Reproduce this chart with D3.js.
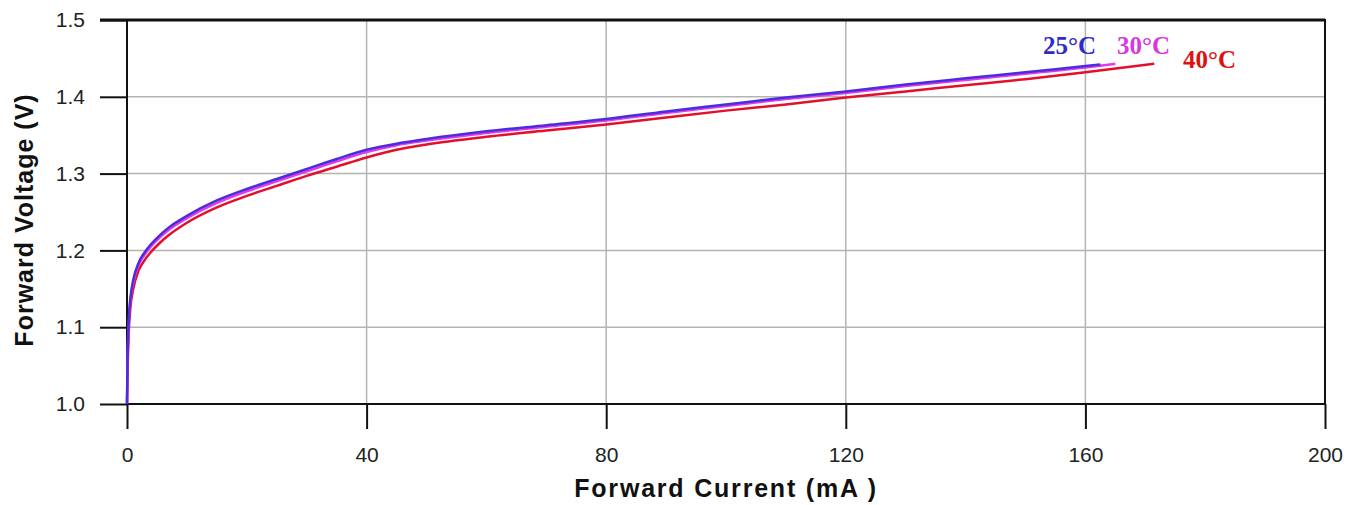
<!DOCTYPE html>
<html>
<head>
<meta charset="utf-8">
<script src="https://cdn.jsdelivr.net/npm/d3@7"></script>
<style>
  html, body { margin: 0; padding: 0; background: #fff; }
  svg { display: block; }
</style>
</head>
<body>
<svg id="chart" width="1354" height="505"></svg>
<script>
// ---- data ----
const xTicks = [0, 40, 80, 120, 160, 200];
const yTicks = [1.0, 1.1, 1.2, 1.3, 1.4, 1.5];
const xLabel = "Forward Current (mA )";
const yLabel = "Forward Voltage (V)";

const current25 = [0, 0.1, 0.3, 0.6, 1, 2, 3, 4, 5.5, 7, 10, 15, 20, 25, 30, 35, 40, 45, 50, 60, 70, 80, 90, 100, 110, 120, 130, 140, 150, 160, 162.5];
const volt25    = [1.000, 1.060, 1.110, 1.140, 1.160, 1.185, 1.198, 1.208, 1.220, 1.230, 1.245, 1.265, 1.280, 1.293, 1.306, 1.319, 1.331, 1.339, 1.345, 1.355, 1.363, 1.371, 1.381, 1.390, 1.399, 1.407, 1.416, 1.424, 1.432, 1.440, 1.442];

const current30 = [0, 0.1, 0.3, 0.6, 1, 2, 3, 4, 5.5, 7, 10, 15, 20, 25, 30, 35, 40, 45, 50, 60, 70, 80, 90, 100, 110, 120, 130, 140, 150, 160, 165];
const volt30    = [1.000, 1.055, 1.105, 1.136, 1.156, 1.182, 1.195, 1.205, 1.217, 1.227, 1.242, 1.262, 1.277, 1.290, 1.303, 1.316, 1.328, 1.337, 1.343, 1.353, 1.361, 1.369, 1.379, 1.388, 1.397, 1.405, 1.414, 1.422, 1.430, 1.438, 1.443];

const current40 = [0, 0.1, 0.3, 0.6, 1, 2, 3, 4, 5.5, 7, 10, 15, 20, 25, 30, 35, 40, 45, 50, 60, 70, 80, 90, 100, 110, 120, 130, 140, 150, 160, 171.5];
const volt40    = [1.000, 1.045, 1.095, 1.128, 1.148, 1.175, 1.188, 1.198, 1.210, 1.220, 1.236, 1.256, 1.271, 1.284, 1.297, 1.309, 1.321, 1.331, 1.338, 1.348, 1.356, 1.364, 1.373, 1.382, 1.390, 1.399, 1.407, 1.415, 1.423, 1.432, 1.443];

const seriesNames  = ["40°C", "30°C", "25°C"];
const seriesColors = ["#e3102c", "#e23ae6", "#4b2ce0"];
const labelColors  = ["#e01010", "#d838e0", "#2c2cc8"];

// ---- layout ----
const svg = d3.select("#chart");
const margin = { left: 127, right: 1325, top: 20, bottom: 404 };

const x = d3.scaleLinear().domain([0, 200]).range([margin.left, margin.right]);
const y = d3.scaleLinear().domain([1.0, 1.5]).range([margin.bottom, margin.top]);

// grid
const grid = svg.append("g");
grid.selectAll("line.vx").data(xTicks.slice(1, -1)).join("line")
  .attr("x1", d => x(d)).attr("x2", d => x(d))
  .attr("y1", margin.top).attr("y2", margin.bottom)
  .attr("stroke", "#b4b4b4").attr("stroke-width", 1.5);
grid.selectAll("line.hy").data(yTicks.slice(1, -1)).join("line")
  .attr("x1", margin.left).attr("x2", margin.right)
  .attr("y1", d => y(d)).attr("y2", d => y(d))
  .attr("stroke", "#b4b4b4").attr("stroke-width", 1.5);

// axes
const xAxis = d3.axisBottom(x).tickValues(xTicks).tickSize(25).tickPadding(18).tickFormat(d3.format("d"));
const yAxis = d3.axisLeft(y).tickValues(yTicks).tickSize(27).tickPadding(15).tickFormat(d3.format(".1f"));

const gx = svg.append("g").attr("transform", `translate(0,${margin.bottom})`).call(xAxis);
const gy = svg.append("g").attr("transform", `translate(${margin.left},0)`).call(yAxis);
[gx, gy].forEach(g => {
  g.select(".domain").remove();
  g.selectAll(".tick line").attr("stroke", "#111").attr("stroke-width", 2);
  g.selectAll(".tick text").attr("fill", "#222")
    .style("font-family", "Arial, 'Liberation Sans', sans-serif").style("font-size", "21px");
});

// frame
svg.append("rect")
  .attr("x", margin.left).attr("y", margin.top)
  .attr("width", margin.right - margin.left).attr("height", margin.bottom - margin.top)
  .attr("fill", "none").attr("stroke", "#111").attr("stroke-width", 2);
svg.append("line")
  .attr("x1", margin.left - 27).attr("x2", margin.right)
  .attr("y1", margin.top).attr("y2", margin.top)
  .attr("stroke", "#111").attr("stroke-width", 3);

// curves
const line = d3.line().x(d => x(d[0])).y(d => y(d[1])).curve(d3.curveMonotoneX);
const allSeries = [
  d3.zip(current40, volt40),
  d3.zip(current30, volt30),
  d3.zip(current25, volt25)
];
svg.append("g").selectAll("path").data(allSeries).join("path")
  .attr("d", d => line(d))
  .attr("fill", "none")
  .attr("stroke", (d, i) => seriesColors[i])
  .attr("stroke-width", 2.5);

// series labels
const labelPos = [
  { x: 1183, y: 68 },
  { x: 1117, y: 54 },
  { x: 1043, y: 54 }
];
svg.append("g").selectAll("text").data(seriesNames).join("text")
  .attr("x", (d, i) => labelPos[i].x)
  .attr("y", (d, i) => labelPos[i].y)
  .attr("fill", (d, i) => labelColors[i])
  .style("font-family", "'Liberation Serif', 'Times New Roman', serif")
  .style("font-weight", "bold")
  .style("font-size", "25px")
  .text(d => d);

// axis titles
svg.append("text")
  .attr("x", (margin.left + margin.right) / 2).attr("y", 497)
  .attr("text-anchor", "middle")
  .attr("fill", "#111")
  .style("font-family", "Arial, 'Liberation Sans', sans-serif")
  .style("font-weight", "bold").style("font-size", "25px")
  .style("letter-spacing", "1.8px")
  .text(xLabel);
svg.append("text")
  .attr("transform", `translate(33,${220}) rotate(-90)`)
  .attr("text-anchor", "middle")
  .attr("fill", "#111")
  .style("font-family", "Arial, 'Liberation Sans', sans-serif")
  .style("font-weight", "bold").style("font-size", "25px")
  .style("letter-spacing", "1px")
  .text(yLabel);
</script>
</body>
</html>
